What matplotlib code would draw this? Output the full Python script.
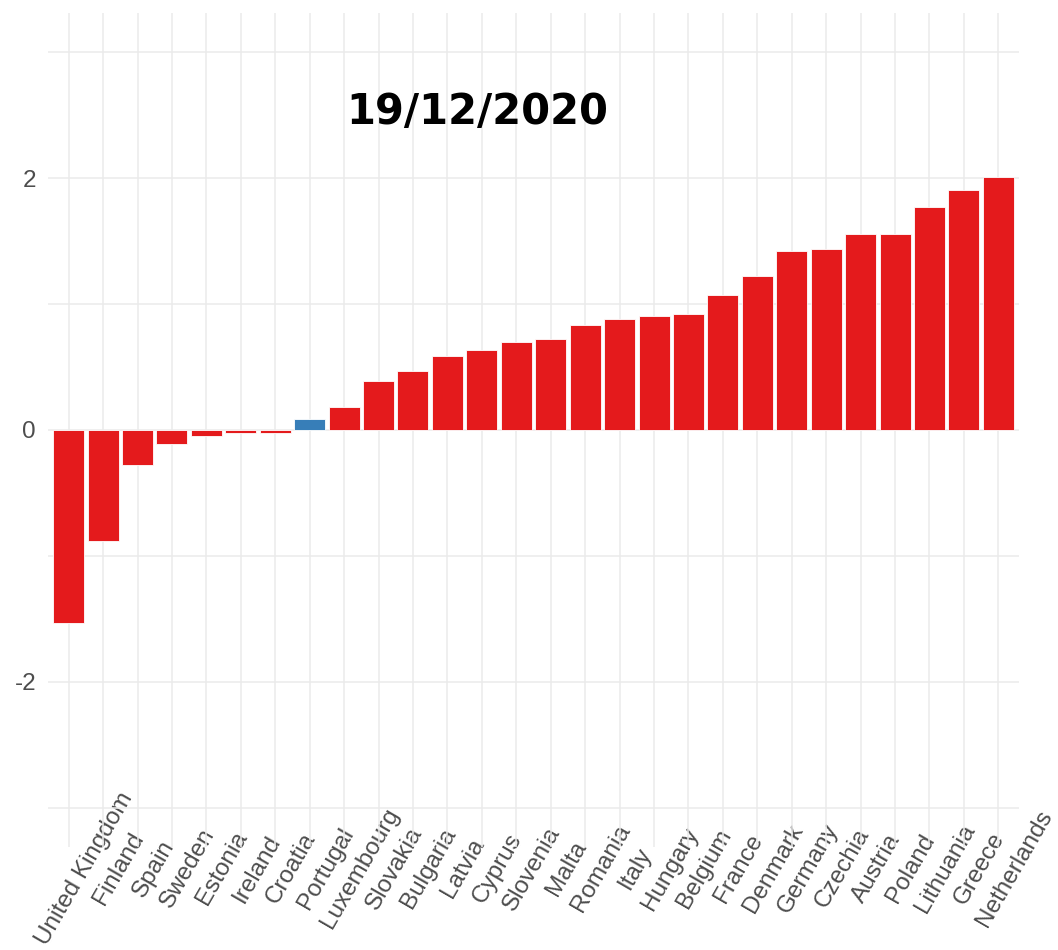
import matplotlib
matplotlib.use("Agg")
import matplotlib.pyplot as plt
import matplotlib.transforms as mtransforms

# Data
countries = ["United Kingdom", "Finland", "Spain", "Sweden", "Estonia", "Ireland",
             "Croatia", "Portugal", "Luxembourg", "Slovakia", "Bulgaria", "Latvia",
             "Cyprus", "Slovenia", "Malta", "Romania", "Italy", "Hungary", "Belgium",
             "France", "Denmark", "Germany", "Czechia", "Austria", "Poland",
             "Lithuania", "Greece", "Netherlands"]
values = [-1.53, -0.88, -0.28, -0.11, -0.05, -0.02,
          -0.02, 0.085, 0.185, 0.386, 0.468, 0.585,
          0.635, 0.70, 0.72, 0.836, 0.885, 0.905, 0.92,
          1.07, 1.22, 1.423, 1.439, 1.556, 1.556,
          1.772, 1.907, 2.008]
highlight = ["Portugal"]
title = "19/12/2020"

red = "#E41A1C"
blue = "#377EB8"
grid_col = "#EBEBEB"
text_col = "#4D4D4D"

bar_colors = [blue if c in highlight else red for c in countries]

fig = plt.figure(figsize=(10.58, 9.5), dpi=100)
ax = fig.add_axes([48/1058, 1 - 847/950, (1019 - 48)/1058, (847 - 13)/950])

x = list(range(len(countries)))
ax.bar(x, values, width=0.9, color=bar_colors, edgecolor="white", linewidth=0.6, zorder=2)

ax.set_xlim(-0.6, len(countries) - 0.4)
ax.set_ylim(-3.31, 3.31)

# Grid (ggplot minimal style)
ax.set_yticks([-2, 0, 2])
ax.set_yticklabels(["-2", "0", "2"])
ax.set_yticks([-3, -1, 1, 3], minor=True)
ax.set_xticks(x)
ax.grid(True, which="major", color=grid_col, linewidth=1.1, zorder=0)
ax.grid(True, which="minor", axis="y", color=grid_col, linewidth=1.1, zorder=0)
ax.set_axisbelow(True)

for s in ax.spines.values():
    s.set_visible(False)

ax.tick_params(axis="y", which="both", length=0, pad=8.6, labelsize=17.5, labelcolor=text_col)
ax.tick_params(axis="x", length=0, pad=15.5, labelsize=17.5, labelcolor=text_col)
ax.set_xticklabels(countries, rotation=60, ha="center", va="center", rotation_mode="anchor",
                   family="Liberation Sans")
for lab in ax.get_yticklabels():
    lab.set_family("Liberation Sans")

shift = mtransforms.ScaledTranslation(0.16, 0, fig.dpi_scale_trans)
for lab in ax.get_xticklabels():
    lab.set_transform(lab.get_transform() + shift)

fig.text(477.5/1058, 1 - 112/950, title, ha="center", va="center",
         fontsize=30, fontweight="bold", family="DejaVu Sans", color="black")

fig.savefig("out.png", dpi=100, facecolor="white")
